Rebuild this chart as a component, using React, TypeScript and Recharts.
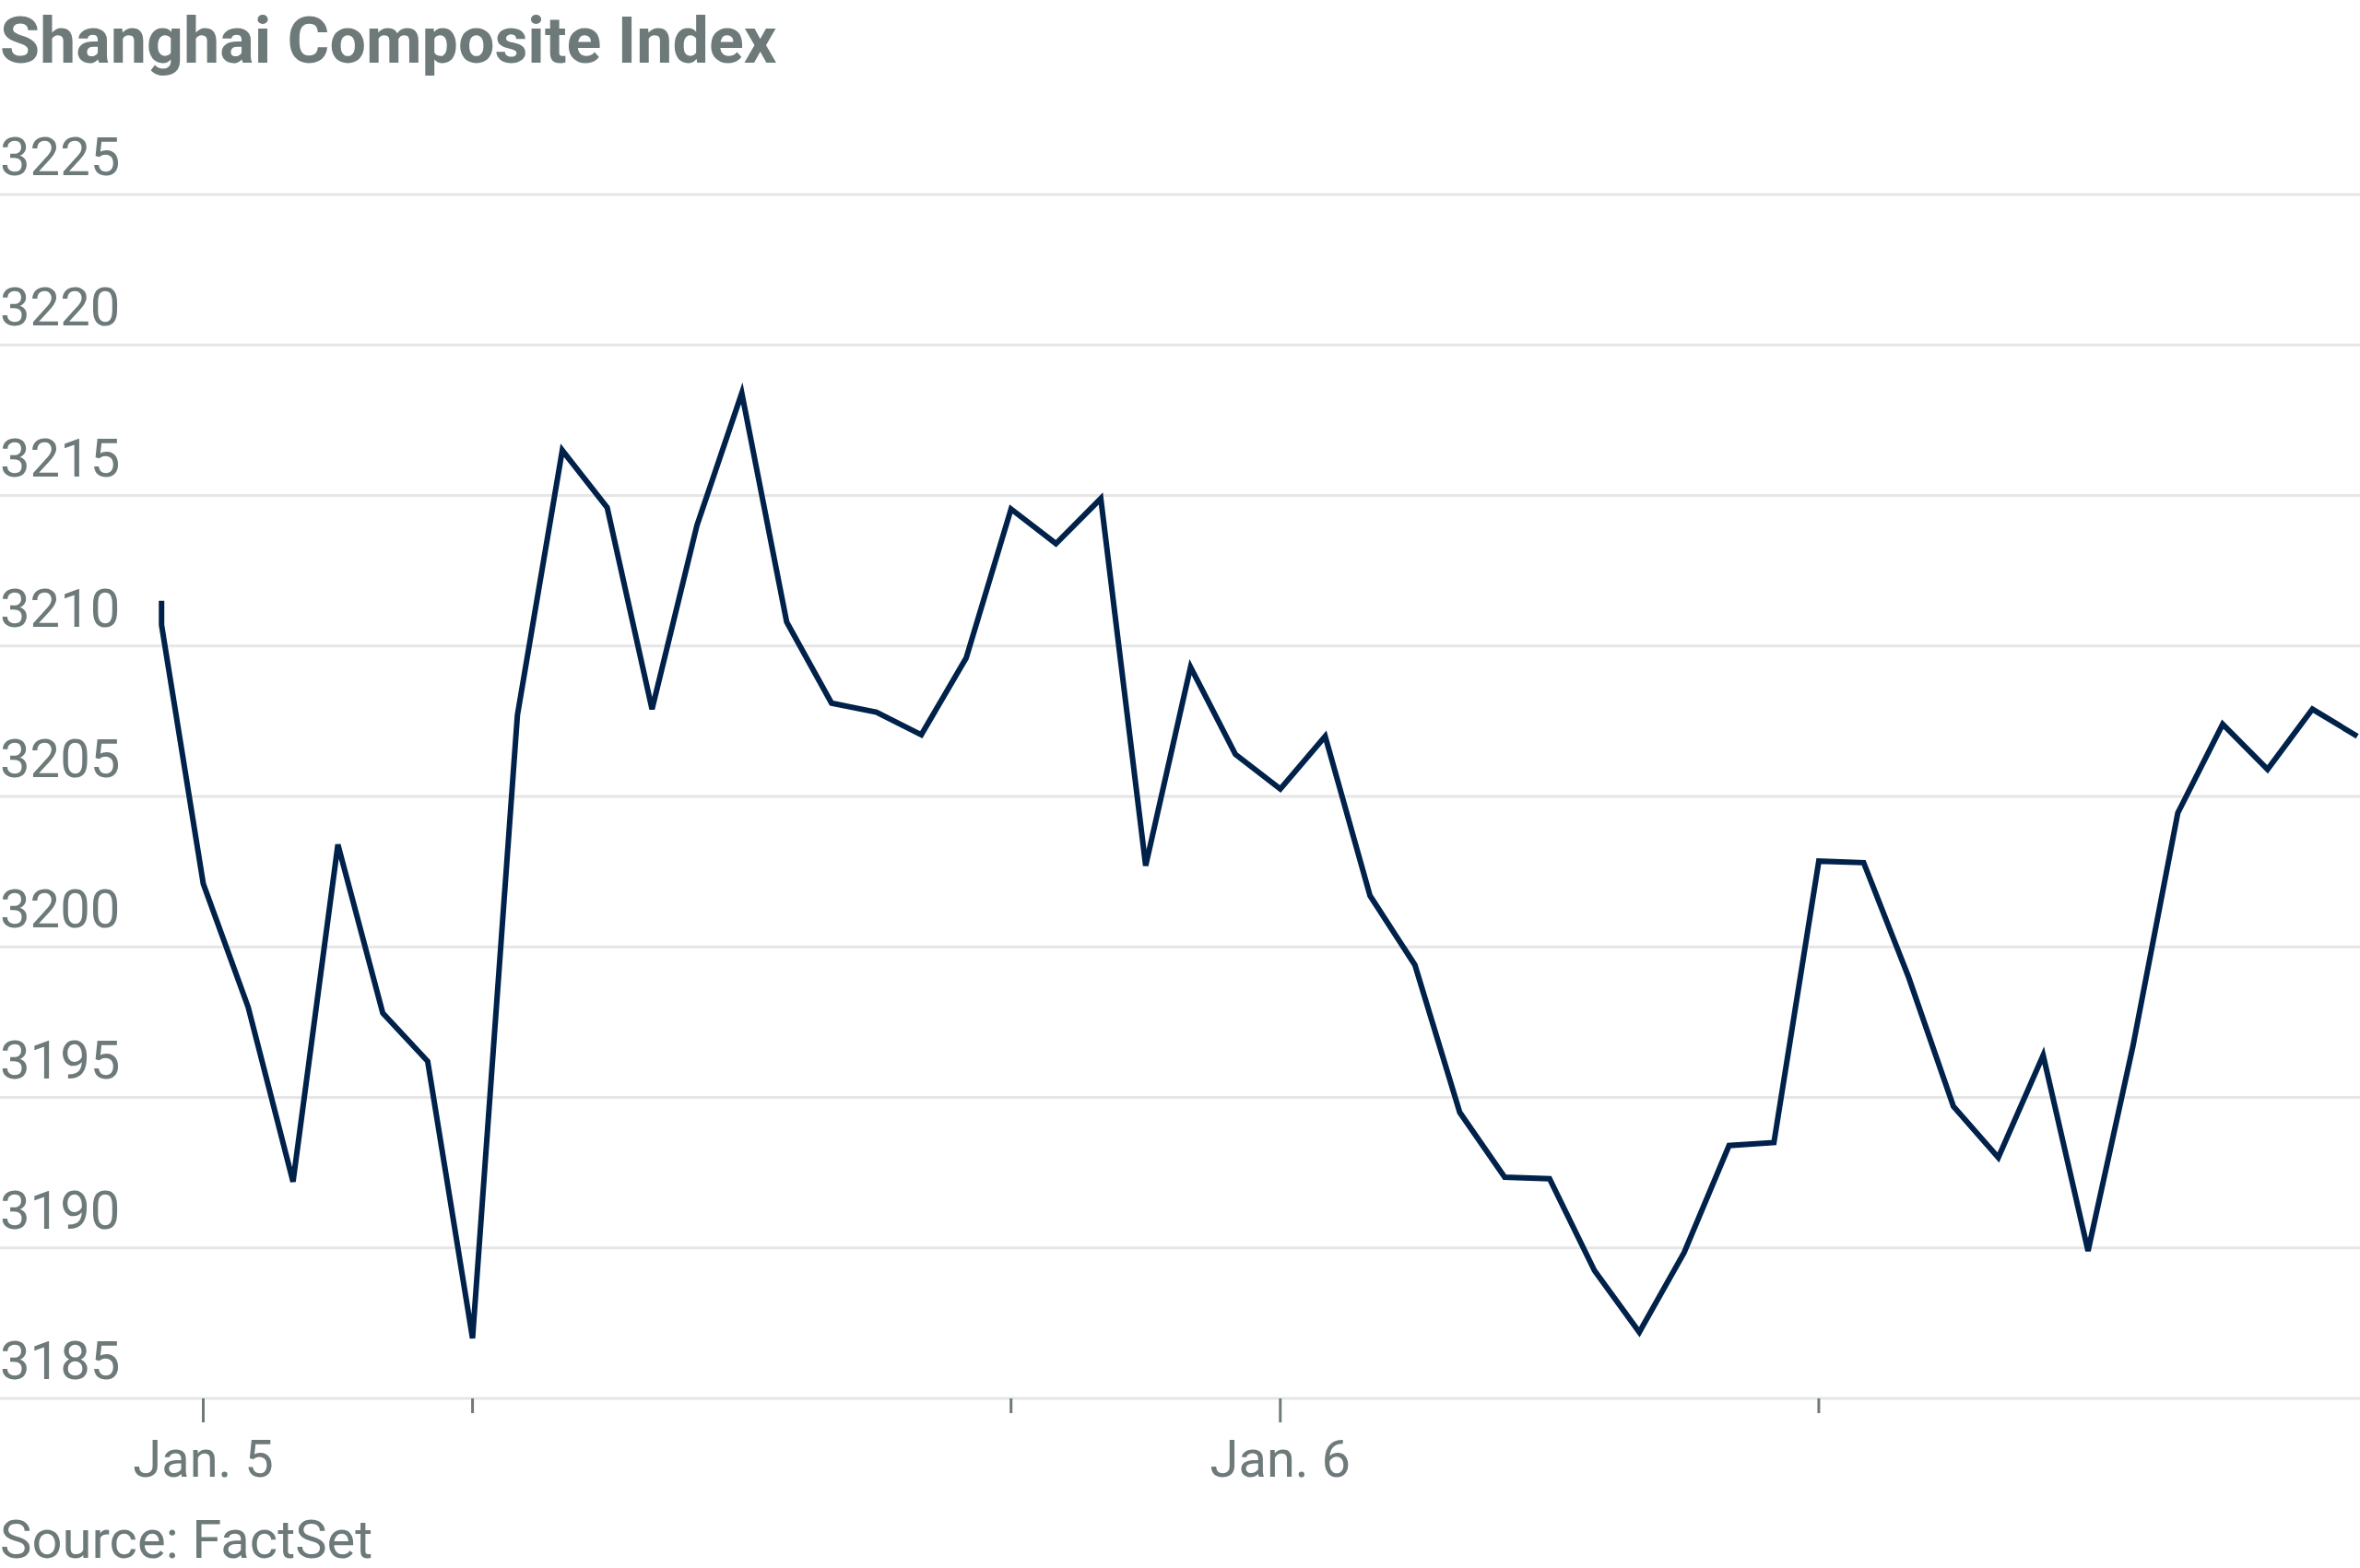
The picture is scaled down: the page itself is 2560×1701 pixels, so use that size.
import React from "react";
import { LineChart, Line, XAxis, YAxis, CartesianGrid } from "recharts";

// Hours relative to Jan. 5, 00:00 (first reading appears twice at the start)
const hours = [
  -0.93, -0.93, 0, 1, 2, 3, 4, 5, 6, 7, 8, 9, 10, 11, 12, 13, 14, 15, 16, 17,
  18, 19, 20, 21, 22, 23, 24, 25, 26, 27, 28, 29, 30, 31, 32, 33, 34, 35, 36,
  37, 38, 39, 40, 41, 42, 43, 44, 45, 46, 47, 48,
];
const values = [
  3211.5, 3210.7, 3202.1, 3198.0, 3192.2, 3203.4, 3197.8, 3196.2, 3187.0,
  3207.7, 3216.5, 3214.6, 3207.9, 3214.0, 3218.4, 3210.8, 3208.1, 3207.8,
  3207.05, 3209.6, 3214.55, 3213.4, 3214.9, 3202.7, 3209.3, 3206.4, 3205.25,
  3207.0, 3201.7, 3199.4, 3194.5, 3192.35, 3192.3, 3189.25, 3187.2, 3189.85,
  3193.4, 3193.5, 3202.85, 3202.8, 3199.0, 3194.7, 3193.0, 3196.4, 3189.9,
  3196.7, 3204.45, 3207.4, 3205.9, 3207.9, 3207.0,
];
const yTicks = [3185, 3190, 3195, 3200, 3205, 3210, 3215, 3220, 3225];
const xTicks = [0, 6, 18, 24, 36];
const xTickLabels: Record<number, string> = { 0: "Jan. 5", 24: "Jan. 6" };

const title = "Shanghai Composite Index";
const source = "Source: FactSet";

const data = hours.map((h, i) => ({ h, v: values[i] }));

const W = 2560;
const H = 1701;
const FONT = "Roboto, 'Noto Sans', sans-serif";
const GRAY = "#6e7a7a";

const YTick = (props: any) => {
  const { y, payload } = props;
  return (
    <text
      x={0}
      y={y - 21}
      fill={GRAY}
      fontSize={58}
      fontFamily={FONT}
      textAnchor="start"
    >
      {payload.value}
    </text>
  );
};

const XTick = (props: any) => {
  const { x, y, payload } = props;
  const label = xTickLabels[payload.value];
  const major = label !== undefined;
  return (
    <g>
      <line
        x1={x}
        x2={x}
        y1={y}
        y2={y + (major ? 26 : 16)}
        stroke={GRAY}
        strokeWidth={3}
      />
      {major && (
        <text
          x={x}
          y={y + 85}
          fill={GRAY}
          fontSize={56}
          fontFamily={FONT}
          textAnchor="middle"
        >
          {label}
        </text>
      )}
    </g>
  );
};

export default function App() {
  return (
    <div
      style={{
        position: "absolute",
        left: 0,
        top: 0,
        width: W,
        height: H,
        background: "#ffffff",
      }}
    >
      <LineChart
        width={W}
        height={H}
        data={data}
        margin={{ top: 211, right: 0, bottom: 0, left: -1 }}
      >
        <CartesianGrid
          vertical={false}
          horizontal={true}
          stroke="#e6e6e6"
          strokeWidth={3}
        />
        <XAxis
          dataKey="h"
          type="number"
          domain={[-4.53, 48.06]}
          ticks={xTicks}
          interval={0}
          axisLine={false}
          tickLine={false}
          tickSize={0}
          tickMargin={0}
          height={184}
          tick={<XTick />}
          allowDataOverflow
        />
        <YAxis
          type="number"
          domain={[3185, 3225]}
          ticks={yTicks}
          interval={0}
          width={1}
          axisLine={false}
          tickLine={false}
          tick={<YTick />}
          allowDataOverflow
        />
        <Line
          type="linear"
          dataKey="v"
          stroke="#00224a"
          strokeWidth={6}
          dot={false}
          activeDot={false}
          isAnimationActive={false}
        />
      </LineChart>
      <svg
        width={W}
        height={H}
        style={{ position: "absolute", left: 0, top: 0, pointerEvents: "none" }}
      >
        <text
          x={0}
          y={68}
          fill={GRAY}
          fontSize={70}
          fontWeight={700}
          fontFamily={FONT}
        >
          {title}
        </text>
        <text x={0} y={1690} fill={GRAY} fontSize={58} fontFamily={FONT}>
          {source}
        </text>
      </svg>
    </div>
  );
}
